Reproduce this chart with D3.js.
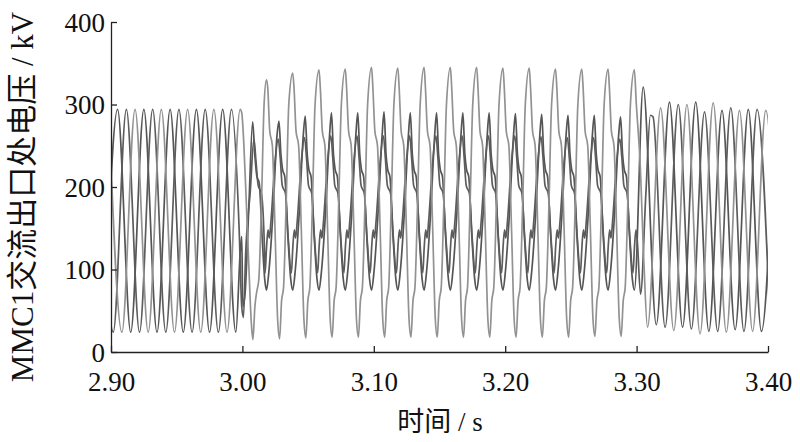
<!DOCTYPE html>
<html><head><meta charset="utf-8">
<script src="https://cdn.jsdelivr.net/npm/d3@7"></script>
<style>body{margin:0;background:#fff}svg{display:block}</style>
</head><body>
<svg id="c" width="800" height="442"></svg>
<script>
// ---- axis ticks ----
const xTicks = [2.90, 3.00, 3.10, 3.20, 3.30, 3.40];
const yTicks = [0, 100, 200, 300, 400];

// ---- pre-fault vertices (time s, kV) ----
const preA = [[2.8983,294],[2.9083,24],[2.9183,294],[2.9283,24],[2.9383,294],[2.9483,24],[2.9583,294],[2.9683,24],[2.9783,294],[2.9883,24],[2.9983,294]];
const preB = [[2.8950,24],[2.9050,294],[2.9150,24],[2.9250,294],[2.9350,24],[2.9450,294],[2.9550,24],[2.9650,294],[2.9750,24],[2.9850,294],[2.9950,24]];
const preC = [[2.8917,294],[2.9017,24],[2.9117,294],[2.9217,24],[2.9317,294],[2.9417,24],[2.9517,294],[2.9617,24],[2.9717,294],[2.9817,24],[2.9917,294]];

// ---- fault inception (3.00 s) ----
const inA = [[2.9995,290],[3.0010,255],[3.0030,180],[3.0050,100],[3.0068,35],[3.0080,15],[3.0095,55],[3.0108,72],[3.0125,88],[3.0145,180],[3.0165,300]];
const inB = [[2.9985,125],[2.9995,140],[3.0003,55],[3.0020,70],[3.0050,180],[3.0078,279],[3.0095,238],[3.0110,213],[3.0128,205],[3.0150,140],[3.0170,88]];
const inC = [[2.9975,150],[2.9995,55],[3.0008,42],[3.0025,120],[3.0060,195],[3.0088,258],[3.0103,232],[3.0120,202],[3.0145,192],[3.0165,140],[3.0173,96]];

// ---- fault period: one cycle shape per phase (offset s, kV; "P" peak, "T" trough) ----
const faultStarts = [3.0183,3.0383,3.0583,3.0783,3.0983,3.1183,3.1383,3.1583,3.1783,3.1983,3.2183,3.2383,3.2583,3.2783];
const faultPeakA   = [330,338,342,343,345,344,345,345,345,344,344,343,343,343];
const faultTroughA = [16,17,18,18,18,18,18,18,18,18,18,18,19,19];
const faultPeakB   = [280,286,290,290,291,290,290,290,290,289,288,287,287,285];
const faultTroughB = [75,75,75,75,75,75,75,75,75,75,75,75,75,75];
const faultPeakC   = [258,260,262,262,262,262,262,262,262,262,261,260,260,258];
const shapeA = [[0,"P"],[0.0010,320],[0.0025,268],[0.0045,250],[0.0065,150],[0.0085,40],[0.0100,"T"],[0.0115,62],[0.0130,78],[0.0150,180],[0.0170,300]];
const shapeB = [[0,"T"],[0.0020,100],[0.0050,170],[0.0080,262],[0.0095,"P"],[0.0110,240],[0.0122,222],[0.0140,212],[0.0160,150],[0.0185,88]];
const shapeC = [[0,125],[0.0012,148],[0.0022,138],[0.0035,160],[0.0065,230],[0.0090,"P"],[0.0105,235],[0.0120,202],[0.0145,192],[0.0165,140],[0.0190,96]];

// ---- fault clearing (3.30 s) and post-fault ----
const outA = [[3.2983,342],[3.2998,300],[3.3010,272],[3.3025,235],[3.3055,110],[3.3083,30],[3.3183,296],[3.3283,26],[3.3383,300],[3.3483,22],[3.3583,302],[3.3683,24],[3.3783,293],[3.3883,25],[3.3983,293],[3.4083,25]];
const outB = [[3.2983,75],[3.3050,321],[3.3150,33],[3.3250,303],[3.3350,30],[3.3450,303],[3.3550,25],[3.3650,293],[3.3750,27],[3.3850,294],[3.3950,25],[3.4050,293]];
const outC = [[3.2983,125],[3.2995,148],[3.3005,135],[3.3030,70],[3.3070,190],[3.3105,287],[3.3125,285],[3.3217,30],[3.3317,300],[3.3417,28],[3.3517,291],[3.3617,25],[3.3717,296],[3.3817,25],[3.3917,294],[3.4017,25]];

function faultPts(shape, peaks, troughs){
  const pts=[];
  faultStarts.forEach((t0,i)=>{
    shape.forEach(([o,v])=>{
      const val = v==="P"?peaks[i]:v==="T"?troughs[i]:v;
      pts.push([t0+o,val]);
    });
  });
  return pts;
}
const phaseA = [...preA,...inA,...faultPts(shapeA,faultPeakA,faultTroughA),...outA];
const phaseB = [...preB,...inB,...faultPts(shapeB,faultPeakB,faultTroughB),...outB];
const phaseC = [...preC,...inC,...faultPts(shapeC,faultPeakC,faultPeakC),...outC];

const svg = d3.select("#c");
const m = {l:111, t:22, r:32, b:90};
const W = 800-m.l-m.r, H = 442-m.t-m.b;
const x = d3.scaleLinear().domain([2.90,3.40]).range([0,W]);
const y = d3.scaleLinear().domain([0,400]).range([H,0]);
const g = svg.append("g").attr("transform",`translate(${m.l},${m.t})`);

g.append("clipPath").attr("id","clip").append("rect").attr("x",0).attr("y",-2).attr("width",W).attr("height",H+4);
const line = d3.line().x(d=>x(d[0])).y(d=>y(d[1])).curve(d3.curveMonotoneX);
const lg = g.append("g").attr("clip-path","url(#clip)");
[[phaseB,"#555555"],[phaseC,"#5c5c5c"],[phaseA,"#929292"]].forEach(([d,c])=>{
  lg.append("path").datum(d).attr("d",line).attr("fill","none").attr("stroke",c).attr("stroke-width",1.7).attr("stroke-linejoin","round");
});

const font = "'Liberation Serif','Times New Roman',serif";
const xa = g.append("g").attr("transform",`translate(0,${H})`)
  .call(d3.axisBottom(x).tickValues(xTicks).tickFormat(d3.format(".2f")).tickSizeInner(-6).tickSizeOuter(0).tickPadding(20));
const ya = g.append("g")
  .call(d3.axisLeft(y).tickValues(yTicks).tickFormat(d3.format("d")).tickSizeInner(-6).tickSizeOuter(0).tickPadding(6));
[xa,ya].forEach(a=>{
  a.selectAll("path").attr("stroke","#222").attr("stroke-width",1.3);
  a.selectAll("line").attr("stroke","#222").attr("stroke-width",1.3);
  a.selectAll("text").attr("font-family",font).attr("font-size",27).attr("fill","#111");
});
xa.selectAll("text").attr("dy","0.71em");
ya.selectAll("text").attr("dy","0.34em");

svg.append("text").attr("x",440).attr("y",431).attr("text-anchor","middle")
  .attr("font-family",font+",'Noto Sans CJK SC'").attr("font-size",27).attr("fill","#111").text("时间 / s");
svg.append("text").attr("transform","translate(33,197) rotate(-90)").attr("text-anchor","middle")
  .attr("font-family",font+",'Noto Sans CJK SC'").attr("font-size",31).attr("fill","#111").text("MMC1交流出口处电压 / kV");
</script>
</body></html>
